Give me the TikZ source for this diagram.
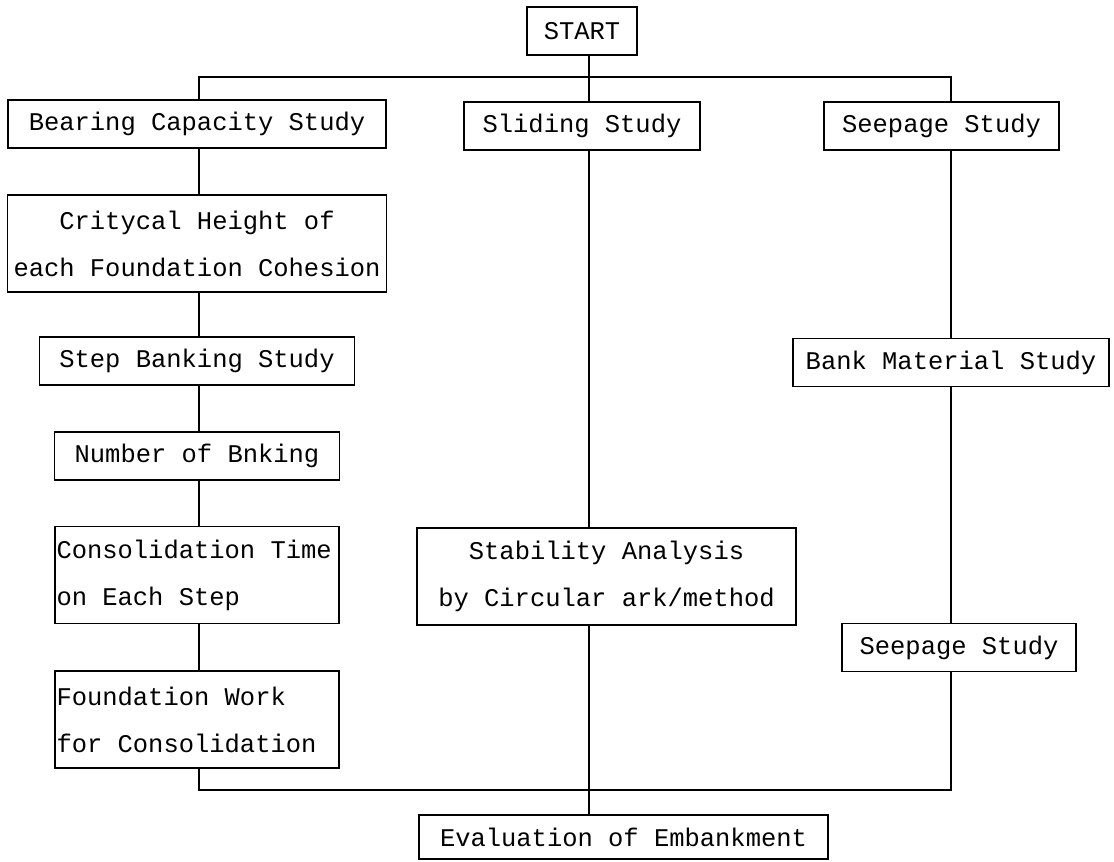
\documentclass[tikz,border=0pt]{standalone}
\usepackage{fontspec}
\setmonofont{Liberation Mono}[WordSpace={1,0,0}]
\usetikzlibrary{positioning,calc}

\begin{document}
\begin{tikzpicture}[%
      line width=1.1pt,            % Thick pen, like the printed chart
      node distance=2cm and 2cm,   % Overridden per box below
      every node/.style={font=\ttfamily\fontsize{14.5}{26.7}\selectfont},
      ]
  \tikzset{
    base/.style={draw, on grid, align=center, inner xsep=0.07cm, inner ysep=0pt},
    proc/.style={base, rectangle, minimum height=0.96cm},
    tall/.style={base, rectangle, minimum height=1.94cm},
    lefty/.style={tall, align=flush left, inner xsep=0.03cm, text width=5.62cm},
    norm/.style={draw},
  }
  \useasboundingbox (0,0) rectangle (22.28,-17.24);

  % Start and the three studies
  \node [proc, minimum width=2.2cm]                       (st)  at (11.64,-0.62) {START};
  \node [proc, minimum width=4.72cm, below=1.9cm of st]   (sl)  {Sliding Study};
  \node [proc, minimum width=7.56cm]                      (bc)  at (3.94,-2.48) {Bearing Capacity Study};
  \node [proc, minimum width=4.7cm]                       (sp)  at (18.83,-2.52) {Seepage Study};

  % Define the processes to the left
  \node [tall,  minimum width=7.58cm, below=2.39cm of bc] (ch)  {Critycal Height of\\each Foundation Cohesion};
  \node [proc,  minimum width=6.3cm,  below=2.35cm of ch] (sb)  {Step Banking Study};
  \node [proc,  minimum width=5.7cm,  below=1.9cm of sb]  (nb)  {Number of Bnking};
  \node [lefty, below=2.38cm of nb]                       (ct)  {Consolidation Time\\on Each Step};
  \node [lefty, below=2.89cm of ct]                       (fw)  {Foundation Work\\for Consolidation};

  % Define the processes in the middle
  \node [tall, minimum width=7.58cm, below=9.01cm of sl, xshift=0.49cm] (sa) {Stability Analysis\\by Circular ark/method};
  \node [proc, minimum width=8.18cm, minimum height=0.88cm, below=5.21cm of sa, xshift=0.34cm] (ev) {Evaluation of Embankment};

  % Define the processes to the right
  \node [proc, minimum width=6.32cm, below=4.73cm of sp, xshift=0.19cm] (bm)  {Bank Material Study};
  \node [proc, minimum width=4.68cm, below=5.7cm of bm, xshift=0.16cm]  (sp2) {Seepage Study};

  % Bus lines
  \coordinate (tl) at (3.98,-1.54);
  \coordinate (tm) at (11.78,-1.54);
  \coordinate (tr) at (19.02,-1.54);
  \coordinate (bl) at (3.98,-15.8);
  \coordinate (br) at (19.02,-15.8);

  % Top split
  \draw [norm] (bc.north -| tl) -- (tl) -- (tr) -- (sp.north -| tr);
  \draw [norm] (st.south -| tm) -- (sl.north -| tm);

  % Columns
  \foreach \a/\b in {bc/ch, ch/sb, sb/nb, nb/ct, ct/fw}
    \draw [norm] (\a.south -| tl) -- (\b.north -| tl);
  \draw [norm] (sl.south -| tm) -- (sa.north -| tm);
  \draw [norm] (sa.south -| tm) -- (ev.north -| tm);
  \draw [norm] (sp.south -| tr) -- (bm.north -| tr);
  \draw [norm] (bm.south -| tr) -- (sp2.north -| tr);

  % Bottom join
  \draw [norm] (fw.south -| bl) -- (bl) -- (br) -- (sp2.south -| br);

\end{tikzpicture}
\end{document}
